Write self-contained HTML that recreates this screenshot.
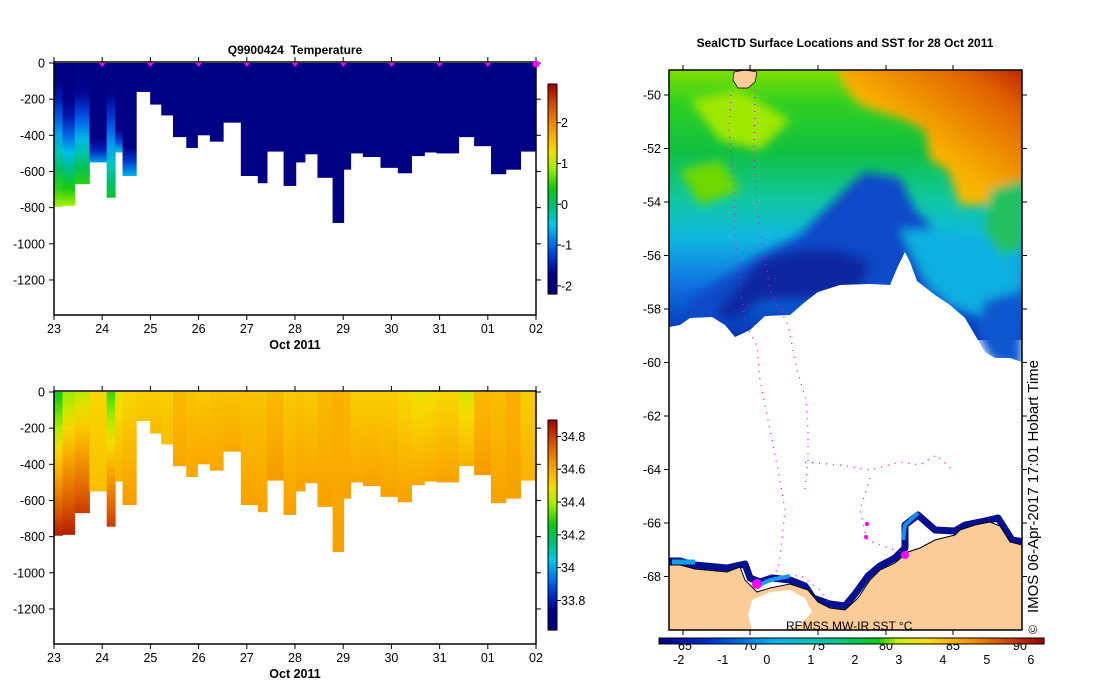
<!DOCTYPE html>
<html><head><meta charset="utf-8"><style>
html,body{margin:0;padding:0;background:#fff;}
svg{display:block;font-family:"Liberation Sans",sans-serif;}
</style></head><body>
<svg id="root" width="1099" height="700" viewBox="0 0 1099 700" xmlns="http://www.w3.org/2000/svg">
<defs>
 <filter id="blur" x="-5%" y="-5%" width="110%" height="110%"><feGaussianBlur stdDeviation="5"/></filter>
 <clipPath id="mapclip"><rect x="669" y="70" width="353" height="560"/></clipPath>
 <linearGradient id="sstbase" x1="0" y1="0" x2="0" y2="1">
  <stop offset="0" stop-color="#80e000"/><stop offset="0.12" stop-color="#30d020"/>
  <stop offset="0.3" stop-color="#10c040"/><stop offset="0.48" stop-color="#10c8a0"/>
  <stop offset="0.62" stop-color="#10b8e0"/><stop offset="0.8" stop-color="#1070e0"/>
  <stop offset="1" stop-color="#0030b0"/>
 </linearGradient>
 <linearGradient id="warm" x1="0" y1="1" x2="1" y2="0">
  <stop offset="0" stop-color="#e8e000"/><stop offset="0.45" stop-color="#f8b000"/>
  <stop offset="0.8" stop-color="#e06000"/><stop offset="1" stop-color="#b01000"/>
 </linearGradient>
</defs>
<g id="charts"></g>

<g>
 <text x="845" y="47" font-size="12" font-weight="bold" text-anchor="middle">SealCTD Surface Locations and SST for 28 Oct 2011</text>
 <g clip-path="url(#mapclip)">
  <rect x="669" y="70" width="353" height="270" fill="url(#sstbase)"/>
  <g filter="url(#blur)">
   <polygon fill="url(#warm)" points="835,60 1030,60 1030,180 1000,190 985,205 960,205 948,170 930,160 925,130 900,118 880,112 860,105 845,88"/>
   <polygon fill="#0848c8" points="865,172 900,178 915,210 930,225 940,245 950,260 935,290 900,290 860,290 820,300 760,300 720,320 690,325 690,300 720,280 760,255 800,235 830,205 850,185"/>
   <polygon fill="#0828a0" points="760,260 800,250 840,250 870,262 860,290 800,300 760,300 735,320 715,315 740,285"/>
   <polygon fill="#10b0e0" points="900,230 930,230 970,240 1010,245 1022,260 1022,300 990,320 950,305 925,280"/>
   <polygon fill="#20c060" points="990,190 1022,180 1022,250 1000,255 985,230"/>
   <polygon fill="#1058d0" points="985,300 1022,290 1022,370 990,360 975,330"/>
   <polygon fill="#a0e800" points="690,100 740,90 790,120 760,150 720,140"/>
   <polygon fill="#70d800" points="680,170 720,160 740,190 700,205"/>
  </g>
  <polygon fill="#fff" points="669,327 680,325 690,318 712,317 725,325 735,337 750,330 765,316 790,315 805,302 818,292 840,285 870,284 890,285 898,266 905,252 910,262 917,281 935,295 950,305 965,318 975,335 985,352 995,358 1010,358 1022,362 1022,640 669,640"/>
  <polyline fill="none" stroke="#001090" stroke-width="7" stroke-linejoin="round" points="669,561 680,561 695,565 727,568 745,564 750,578 760,582 772,578 790,580 805,586 813,598 830,604 845,606 855,594 868,576 880,566 895,558 905,548 905,525 918,515 935,530 955,531 965,525 985,521 998,518 1012,540 1025,542"/>
  <polyline fill="none" stroke="#10a0e8" stroke-width="5" points="672,562 695,562"/>
  <polyline fill="none" stroke="#10a0e8" stroke-width="4" points="757,586 770,580 790,576"/>
  <polyline fill="none" stroke="#1890e0" stroke-width="4" points="903,540 905,525 918,513"/>
  <polygon fill="#fccc98" points="669,565 680,565 695,569 727,572 740,567 745,580 757,592 770,588 790,584 808,590 818,602 830,608 845,610 858,598 870,580 880,570 895,563 908,552 920,548 935,540 955,535 960,530 975,525 990,522 1000,526 1010,542 1022,545 1022,640 669,640"/>
  <polyline fill="none" stroke="#000" stroke-width="1" points="669,565 680,565 695,569 727,572 740,567 745,580 757,592 770,588 790,584 808,590 818,602 830,608 845,610 858,598 870,580 880,570 895,563 908,552 920,548 935,540 955,535 960,530 975,525 990,522 1000,526 1010,542 1022,545"/>
  <polygon fill="#fff" points="752,600 770,592 790,590 805,598 812,612 800,625 785,630 752,630 748,615"/>
  <polygon fill="#fccc98" stroke="#000" stroke-width="0.7" points="734,72 745,70 757,72 755,82 748,88 738,88 733,80"/>
  <g fill="none" stroke="#ff00ff" stroke-width="1.3" stroke-dasharray="1 6">
   <polyline points="731,95 729,130 733,170 734,190 735,235 738,260 742,300 746,325 757,346 760,380 768,420 778,470 785,510 782,540 778,570 757,585"/>
   <polyline points="755,90 754,150 756,200 760,230 765,260 770,290 788,325 792,345 797,370 806,400 808,430 808,460 805,490"/>
   <polyline points="805,462 840,465 870,470 900,462 920,465 936,455 955,472"/>
   <polyline points="870,478 860,510 867,540 880,545 900,552"/>
   <polyline points="775,580 800,575 820,590 830,605"/>
  </g>
  <circle cx="757" cy="584" r="5" fill="#ff00ff"/><circle cx="905" cy="555" r="4" fill="#ff00ff"/>
  <circle cx="867" cy="524" r="2" fill="#ff00ff"/><circle cx="866" cy="537" r="2" fill="#ff00ff"/>
  <text x="786" y="630" font-size="12">REMSS MW-IR SST °C</text>
 </g>
 <rect x="669" y="70" width="353" height="560" fill="none" stroke="#000" stroke-width="1.5"/>
 <g id="maplat"></g>
 <text transform="translate(1038,613) rotate(-90)" font-size="15" textLength="253" lengthAdjust="spacingAndGlyphs">IMOS 06-Apr-2017 17:01 Hobart Time</text>
 <text transform="translate(1037,634) rotate(-90)" font-size="12">©</text>
 <g id="sstbar"></g>
</g>
</svg>
<script>
const dayTicks = ["23","24","25","26","27","28","29","30","31","01","02"];
const profStart = [0,0.176,0.428,0.734,1.093,1.269,1.422,1.705,1.995,2.225,2.469,2.745,2.974,3.234,3.509,3.876,4.228,4.419,4.763,5.015,5.206,5.466,5.780,6.009,6.154,6.407,6.774,7.133,7.416,7.683,7.936,8.394,8.716,9.067,9.373,9.679];
const profDepth = [795,790,670,550,745,495,625,160,230,290,410,470,400,435,330,625,665,490,680,550,505,635,885,590,500,520,580,610,515,495,500,410,460,615,590,490];
const tempTop = [-1.8,-1.8,-1.8,-1.8,-1.8,-1.8,-1.8,-1.8,-1.8,-1.8,-1.8,-1.8,-1.8,-1.8,-1.8,-1.8,-1.8,-1.8,-1.8,-1.8,-1.8,-1.8,-1.8,-1.8,-1.8,-1.8,-1.8,-1.8,-1.8,-1.8,-1.8,-1.8,-1.8,-1.8,-1.8,-1.8];
const tempBottom = [0.9,0.9,0.5,-0.7,0.3,-0.5,-0.6,-1.8,-1.8,-1.8,-1.8,-1.8,-1.8,-1.8,-1.8,-1.8,-1.8,-1.8,-1.8,-1.8,-1.8,-1.8,-1.8,-1.8,-1.8,-1.8,-1.8,-1.8,-1.8,-1.8,-1.8,-1.8,-1.8,-1.8,-1.8,-1.8];
const tempMixDepth = [120,240,140,450,150,380,480,0,0,0,0,0,0,0,0,0,0,0,0,0,0,0,0,0,0,0,0,0,0,0,0,0,0,0,0,0];
const salTop = [34.25,34.38,34.42,34.5,34.3,34.47,34.5,34.52,34.52,34.52,34.56,34.54,34.53,34.54,34.54,34.54,34.54,34.56,34.53,34.54,34.53,34.56,34.58,34.56,34.52,34.52,34.52,34.5,34.47,34.48,34.5,34.45,34.56,34.55,34.58,34.52];
const salBottom = [34.85,34.85,34.8,34.55,34.8,34.58,34.62,34.54,34.56,34.55,34.6,34.6,34.6,34.6,34.6,34.61,34.61,34.62,34.61,34.61,34.6,34.61,34.61,34.61,34.6,34.61,34.61,34.61,34.6,34.6,34.61,34.58,34.62,34.61,34.61,34.58];
const depthTicks = [0,-200,-400,-600,-800,-1000,-1200];
const tempBarTicks = [-2,-1,0,1,2];
const salBarTicks = [33.8,34,34.2,34.4,34.6,34.8];
const sstTicks = [-2,-1,0,1,2,3,4,5,6];
const sstFTicks = [65,70,75,80,85,90];
const latTicks = [-50,-52,-54,-56,-58,-60,-62,-64,-66,-68];

const NS="http://www.w3.org/2000/svg";
function mk(tag,attrs,parent){const e=document.createElementNS(NS,tag);for(const k in attrs)e.setAttribute(k,attrs[k]);parent.appendChild(e);return e;}
const stops=[[0,[0,0,120]],[0.09,[0,0,135]],[0.16,[0,40,200]],[0.25,[0,120,240]],[0.33,[0,200,230]],[0.42,[0,190,120]],[0.5,[10,200,20]],[0.6,[160,240,0]],[0.68,[248,220,0]],[0.76,[250,170,0]],[0.88,[220,90,0]],[1,[160,0,0]]];
function cmap(f){f=Math.max(0,Math.min(1,f));for(let i=1;i<stops.length;i++){if(f<=stops[i][0]){const a=stops[i-1],b=stops[i],u=(f-a[0])/(b[0]-a[0]);const c=a[1].map((v,j)=>Math.round(v+(b[1][j]-v)*u));return `rgb(${c})`;}}return "rgb(160,0,0)";}

const root=document.getElementById('charts');
const X0=54,X1=536;
const xDay=d=>X0+d*(X1-X0)/10;
let gid=0;
function panel(top,title,topVals,botVals,mixDepth,lo,hi,barTop,barBot,barTicks,barFmt,name){
  const yD=d=>top+1+d*0.1808;
  const g=mk('g',{},root);
  
  
  const defs=mk('defs',{},g);
  const frameBot=top+253;
  if(title){const t=mk('text',{x:295,y:top-8,'font-size':12,'font-weight':'bold','text-anchor':'middle'},g);t.textContent=title;
    
    }
  for(let i=0;i<profStart.length;i++){
    const x0=xDay(profStart[i]),x1=xDay(i+1<profStart.length?profStart[i+1]:10);
    const dmax=profDepth[i],md=mixDepth?mixDepth[i]:0;
    const id='gr'+(gid++);
    const lg=mk('linearGradient',{id:id,x1:0,y1:0,x2:0,y2:1},defs);
    for(let k=0;k<=8;k++){const d=dmax*k/8;let v;
      if(d<=md)v=topVals[i];else v=topVals[i]+(botVals[i]-topVals[i])*(md>=dmax?0:(d-md)/(dmax-md));
      mk('stop',{offset:k/8,'stop-color':cmap((v-lo)/(hi-lo))},lg);}
    const r=mk('rect',{x:x0,y:yD(0),width:x1-x0+0.5,height:yD(dmax)-yD(0),fill:`url(#${id})`},g);
    
    
  }
  mk('rect',{x:X0,y:top,width:X1-X0,height:253,fill:'none',stroke:'#000','stroke-width':1.5},g);
  depthTicks.forEach(v=>{const y=yD(-v);
    mk('line',{x1:X0-5,x2:X0,y1:y,y2:y,stroke:'#000'},g);mk('line',{x1:X1,x2:X1+5,y1:y,y2:y,stroke:'#000'},g);
    const t=mk('text',{x:X0-9,y:y+4.5,'font-size':12.5,'text-anchor':'end'},g);t.textContent=v;
    
    });
  dayTicks.forEach((lab,i)=>{const x=xDay(i);
    mk('line',{x1:x,x2:x,y1:frameBot,y2:frameBot+5,stroke:'#000'},g);mk('line',{x1:x,x2:x,y1:top-5,y2:top,stroke:'#000'},g);
    const t=mk('text',{x:x,y:frameBot+18,'font-size':12.5,'text-anchor':'middle'},g);t.textContent=lab;
    
    });
  const xl=mk('text',{x:295,y:frameBot+34,'font-size':12.5,'font-weight':'bold','text-anchor':'middle'},g);xl.textContent='Oct 2011';
  
  
  const cb=mk('g',{},g);
  
  
  const n=60,h=(barBot-barTop)/n;
  for(let k=0;k<n;k++)mk('rect',{x:548,y:barTop+k*h,width:9,height:h+0.6,fill:cmap(1-(k+0.5)/n)},cb);
  mk('rect',{x:548,y:barTop,width:9,height:barBot-barTop,fill:'none',stroke:'#000'},cb);
  barTicks.forEach(v=>{const y=barBot-(v-lo)/(hi-lo)*(barBot-barTop);
    mk('line',{x1:557,x2:561,y1:y,y2:y,stroke:'#000'},cb);
    const t=mk('text',{x:561,y:y+4.5,'font-size':12.5},cb);t.textContent=barFmt(v);
    
    });
  return yD;
}
panel(62,'Q9900424\u00a0\u00a0Temperature',tempTop,tempBottom,tempMixDepth,-2.2,2.95,84,294,tempBarTicks,v=>String(v),'temperature-section');
dayTicks.forEach((l,i)=>{if(i===0)return;const x=xDay(i);
  const m=i===10?mk('circle',{cx:x,cy:64,r:3.5,fill:'#ff00ff'},root):mk('polygon',{points:`${x-3},63 ${x+3},63 ${x},67`,fill:'#ff00ff'},root);
  
  });
panel(391,null,salTop,salBottom,null,33.62,34.9,420,630,salBarTicks,v=>v.toFixed(1).replace(/\.0$/,''),'salinity-section');

const ml=document.getElementById('maplat');
const yLat=l=>95+(-50-l)*26.75;
latTicks.forEach(l=>{const y=yLat(l);
  mk('line',{x1:664,x2:669,y1:y,y2:y,stroke:'#000'},ml);mk('line',{x1:1022,x2:1027,y1:y,y2:y,stroke:'#000'},ml);
  const t=mk('text',{x:661,y:y+4.5,'font-size':12.5,'text-anchor':'end'},ml);t.textContent=l;
  
  });
[683,750,818,886,953].forEach(x=>{mk('line',{x1:x,x2:x,y1:65,y2:70,stroke:'#000'},ml);mk('line',{x1:x,x2:x,y1:630,y2:635,stroke:'#000'},ml);});

(function(){
const sb=document.getElementById('sstbar');
const sLo=-2.45,sHi=6.3,bx0=659,bx1=1044;
const xS=v=>bx0+(v-sLo)/(sHi-sLo)*(bx1-bx0);
const fx=[685,750,818,886,953,1020];
sstFTicks.forEach((f,i)=>{const t=mk('text',{x:fx[i],y:650,'font-size':12.5,'text-anchor':'middle'},sb);t.textContent=f;
  
  });
const n=80,w=(bx1-bx0)/n;
const c1=[[0,[0,0,128]],[0.12,[0,40,200]],[0.3,[0,180,240]],[0.45,[0,200,150]],[0.57,[20,200,20]],[0.62,[200,240,0]],[0.7,[248,220,0]],[0.82,[240,140,0]],[0.92,[200,60,0]],[1,[150,0,0]]];
function cm2(f){for(let i=1;i<c1.length;i++){if(f<=c1[i][0]){const a=c1[i-1],b=c1[i],u=(f-a[0])/(b[0]-a[0]);return `rgb(${a[1].map((v,j)=>Math.round(v+(b[1][j]-v)*u))})`;}}return 'rgb(150,0,0)';}
const bar=mk('g',{},sb);


for(let k=0;k<n;k++)mk('rect',{x:bx0+k*w,y:638,width:w+0.6,height:6,fill:cm2((k+0.5)/n)},bar);
mk('rect',{x:bx0,y:638,width:bx1-bx0,height:6,fill:'none',stroke:'#000'},bar);
sstTicks.forEach(v=>{const x=xS(v);const t=mk('text',{x:x,y:664,'font-size':12.5,'text-anchor':'middle'},sb);t.textContent=v;
  
  });
})();
</script>
</body></html>
